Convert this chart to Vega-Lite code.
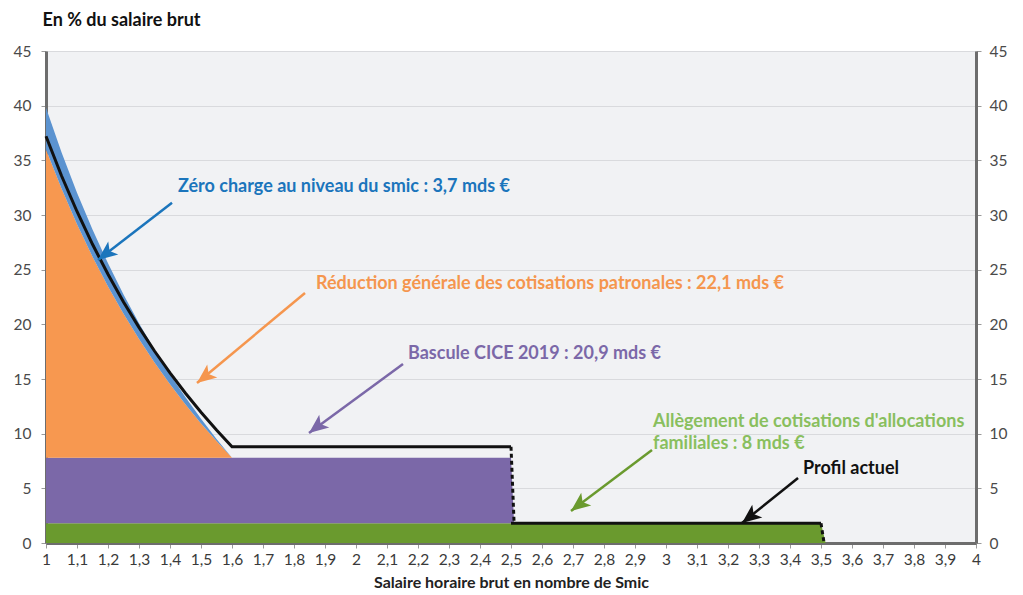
{
  "$schema": "https://vega.github.io/schema/vega-lite/v6.json",
  "width": 930,
  "height": 492,
  "autosize": {"type": "none"},
  "padding": {"left": 46, "top": 51, "right": 47, "bottom": 52},
  "background": "white",
  "config": {"view": {"fill": "#f1f2f4", "stroke": null}, "font": "Lato"},
  "datasets": {
    "bands": [
      {"k": "ga", "x": 1, "lo": 0, "hi": 1.8},
      {"k": "ga", "x": 3.5, "lo": 0, "hi": 1.8},
      {"k": "ga", "x": 3.515, "lo": 0, "hi": 0},
      {"k": "pa", "x": 1, "lo": 1.8, "hi": 7.8},
      {"k": "pa", "x": 2.5, "lo": 1.8, "hi": 7.8},
      {"k": "pa", "x": 2.51, "lo": 1.8, "hi": 1.8},
      {"k": "oa", "x": 1.0, "lo": 7.8, "hi": 36.0},
      {"k": "oa", "x": 1.05, "lo": 7.8, "hi": 32.42},
      {"k": "oa", "x": 1.1, "lo": 7.8, "hi": 29.16},
      {"k": "oa", "x": 1.15, "lo": 7.8, "hi": 26.19},
      {"k": "oa", "x": 1.2, "lo": 7.8, "hi": 23.47},
      {"k": "oa", "x": 1.25, "lo": 7.8, "hi": 20.96},
      {"k": "oa", "x": 1.3, "lo": 7.8, "hi": 18.65},
      {"k": "oa", "x": 1.35, "lo": 7.8, "hi": 16.5},
      {"k": "oa", "x": 1.4, "lo": 7.8, "hi": 14.51},
      {"k": "oa", "x": 1.45, "lo": 7.8, "hi": 12.66},
      {"k": "oa", "x": 1.5, "lo": 7.8, "hi": 10.93},
      {"k": "oa", "x": 1.55, "lo": 7.8, "hi": 9.32},
      {"k": "oa", "x": 1.6, "lo": 7.8, "hi": 7.8},
      {"k": "ba", "x": 1.0, "lo": 36.0, "hi": 39.8},
      {"k": "ba", "x": 1.05, "lo": 32.42, "hi": 35.74},
      {"k": "ba", "x": 1.1, "lo": 29.16, "hi": 32.04},
      {"k": "ba", "x": 1.15, "lo": 26.19, "hi": 28.67},
      {"k": "ba", "x": 1.2, "lo": 23.47, "hi": 25.58},
      {"k": "ba", "x": 1.25, "lo": 20.96, "hi": 22.73},
      {"k": "ba", "x": 1.3, "lo": 18.65, "hi": 20.11},
      {"k": "ba", "x": 1.35, "lo": 16.5, "hi": 17.68},
      {"k": "ba", "x": 1.4, "lo": 14.51, "hi": 15.42},
      {"k": "ba", "x": 1.45, "lo": 12.66, "hi": 13.32},
      {"k": "ba", "x": 1.5, "lo": 10.93, "hi": 11.36},
      {"k": "ba", "x": 1.55, "lo": 9.32, "hi": 9.52},
      {"k": "ba", "x": 1.6, "lo": 7.8, "hi": 7.8}
    ],
    "profil": [
      {"seg": "a", "x": 1.0, "y": 37.2},
      {"seg": "a", "x": 1.05, "y": 33.59},
      {"seg": "a", "x": 1.1, "y": 30.32},
      {"seg": "a", "x": 1.15, "y": 27.32},
      {"seg": "a", "x": 1.2, "y": 24.58},
      {"seg": "a", "x": 1.25, "y": 22.05},
      {"seg": "a", "x": 1.3, "y": 19.72},
      {"seg": "a", "x": 1.35, "y": 17.56},
      {"seg": "a", "x": 1.4, "y": 15.56},
      {"seg": "a", "x": 1.45, "y": 13.7},
      {"seg": "a", "x": 1.5, "y": 11.96},
      {"seg": "a", "x": 1.55, "y": 10.33},
      {"seg": "a", "x": 1.6, "y": 8.8},
      {"seg": "a", "x": 2.5, "y": 8.8},
      {"seg": "b", "x": 2.5, "y": 1.8},
      {"seg": "b", "x": 3.5, "y": 1.8}
    ],
    "drops": [
      {"x": 2.5, "y": 8.8, "x2": 2.51, "y2": 1.8},
      {"x": 3.5, "y": 1.8, "x2": 3.51, "y2": 0}
    ],
    "arrows": [
      {"k": "b", "x": 1.1677, "y": 25.89, "xs": 1.4065, "ys": 31.11},
      {"k": "o", "x": 1.4871, "y": 14.64, "xs": 1.8355, "ys": 22.87},
      {"k": "p", "x": 1.8484, "y": 10.06, "xs": 2.1516, "ys": 16.38},
      {"k": "g", "x": 2.6935, "y": 2.93, "xs": 2.9548, "ys": 8.51},
      {"k": "k", "x": 3.2452, "y": 1.83, "xs": 3.426, "ys": 5.95}
    ],
    "labels": [
      {"k": "b", "x": 1.4258, "y": 32.57, "t": "Zéro charge au niveau du smic : 3,7 mds €"},
      {"k": "o", "x": 1.871, "y": 23.7, "t": "Réduction générale des cotisations patronales : 22,1 mds €"},
      {"k": "p", "x": 2.1677, "y": 17.29, "t": "Bascule CICE 2019 : 20,9 mds €"},
      {"k": "gt", "x": 2.958, "y": 11.07, "t": "Allègement de cotisations d'allocations"},
      {"k": "gt", "x": 2.958, "y": 9.06, "t": "familiales : 8 mds €"},
      {"k": "k", "x": 3.442, "y": 6.77, "t": "Profil actuel"}
    ]
  },
  "encoding": {
    "x": {
      "field": "x",
      "type": "quantitative",
      "scale": {"domain": [1, 4], "nice": false, "zero": false},
      "axis": {
        "values": [1, 1.1, 1.2, 1.3, 1.4, 1.5, 1.6, 1.7, 1.8, 1.9, 2, 2.1, 2.2, 2.3, 2.4, 2.5, 2.6, 2.7, 2.8, 2.9, 3, 3.1, 3.2, 3.3, 3.4, 3.5, 3.6, 3.7, 3.8, 3.9, 4],
        "labelExpr": "replace(format(datum.value, '.1~f'), '.', ',')",
        "title": "Salaire horaire brut en nombre de Smic",
        "grid": false,
        "domainColor": "#6d6d6d",
        "domainWidth": 3,
        "tickColor": "#9a9a9a",
        "tickSize": 5,
        "labelFont": "Lato",
        "labelFontSize": 15.5,
        "labelColor": "#3a3a3a",
        "labelPadding": 4,
        "labelOverlap": false,
        "labelFlush": false,
        "titleFont": "Lato",
        "titleFontSize": 16,
        "titleFontWeight": "bold",
        "titleColor": "#222222",
        "titlePadding": 7
      }
    },
    "y": {
      "field": "y",
      "type": "quantitative",
      "scale": {"domain": [0, 45], "nice": false},
      "axis": null
    },
    "color": {
      "field": "k",
      "type": "nominal",
      "scale": {
        "domain": ["ga", "pa", "oa", "ba", "b", "o", "p", "g", "gt", "k"],
        "range": ["#6a9a2e", "#7b68a8", "#f79850", "#5b93d0", "#1b75bc", "#f5964e", "#7b68a8", "#6a9a2e", "#89bf5e", "#111111"]
      },
      "legend": null
    }
  },
  "layer": [
    {
      "data": {"name": "bands"},
      "mark": {"type": "area", "opacity": 1, "interpolate": "linear"},
      "encoding": {
        "y": {
          "field": "lo",
          "type": "quantitative",
          "stack": null,
          "scale": {"domain": [0, 45], "nice": false},
          "axis": {
            "orient": "left",
            "values": [0, 5, 10, 15, 20, 25, 30, 35, 40, 45],
            "grid": true,
            "gridColor": "#d9dadd",
            "gridWidth": 1.2,
            "domainColor": "#6d6d6d",
            "domainWidth": 3,
            "tickColor": "#9a9a9a",
            "tickSize": 5,
            "labelFont": "Lato",
            "labelFontSize": 15.5,
            "labelColor": "#4a4a4a",
            "labelPadding": 10,
            "title": "En % du salaire brut",
            "titleAngle": 0,
            "titleAlign": "left",
            "titleBaseline": "middle",
            "titleX": -4,
            "titleY": -31,
            "titleFont": "Lato",
            "titleFontSize": 18,
            "titleFontWeight": "bold",
            "titleColor": "#111111"
          }
        },
        "y2": {"field": "hi"}
      }
    },
    {
      "data": {"name": "profil"},
      "mark": {"type": "line", "strokeWidth": 3, "interpolate": "linear", "strokeJoin": "miter"},
      "encoding": {
        "y": {
          "field": "y",
          "type": "quantitative",
          "scale": {"domain": [0, 45], "nice": false},
          "axis": {
            "orient": "right",
            "values": [0, 5, 10, 15, 20, 25, 30, 35, 40, 45],
            "grid": false,
            "domainColor": "#6d6d6d",
            "domainWidth": 3,
            "tickColor": "#9a9a9a",
            "tickSize": 5,
            "labelFont": "Lato",
            "labelFontSize": 15.5,
            "labelColor": "#4a4a4a",
            "labelPadding": 8,
            "title": null
          }
        },
        "detail": {"field": "seg"},
        "color": {"value": "#111111"}
      }
    },
    {
      "data": {"name": "drops"},
      "mark": {"type": "rule", "strokeWidth": 3, "strokeDash": [4, 3]},
      "encoding": {
        "x2": {"field": "x2"},
        "y2": {"field": "y2"},
        "color": {"value": "#111111"}
      }
    },
    {
      "data": {"name": "arrows"},
      "mark": {"type": "rule", "strokeWidth": 2.5},
      "encoding": {
        "x2": {"field": "xs"},
        "y2": {"field": "ys"}
      }
    },
    {
      "data": {"name": "arrows"},
      "mark": {
        "type": "point",
        "filled": true,
        "opacity": 1,
        "strokeWidth": 0,
        "shape": "M0,0L-0.42,1L0,0.76L0.42,1Z",
        "size": 1500,
        "angle": 232
      }
    },
    {
      "data": {"name": "labels"},
      "mark": {"type": "text", "align": "left", "baseline": "middle", "font": "Lato", "fontSize": 18, "fontWeight": "bold"},
      "encoding": {
        "text": {"field": "t"}
      }
    }
  ],
  "resolve": {"axis": {"y": "independent"}}
}
